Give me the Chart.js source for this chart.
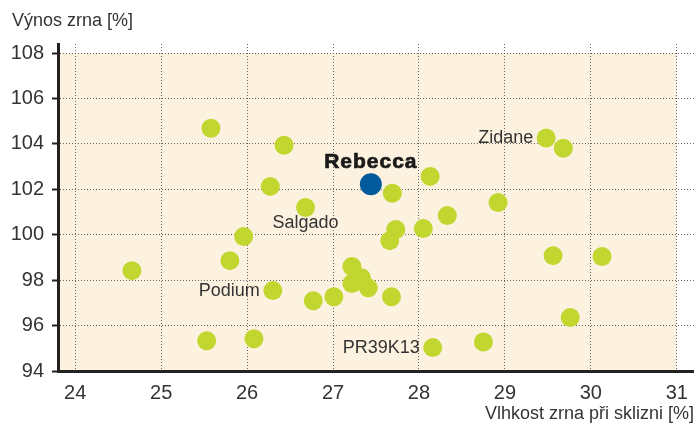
<!DOCTYPE html>
<html>
<head>
<meta charset="utf-8">
<script src="https://cdn.jsdelivr.net/npm/chart.js@4/dist/chart.umd.min.js"></script>
<style>
  body { margin: 0; background: #fff; }
  canvas { display: block; }
</style>
</head>
<body>
<canvas id="yieldChart" width="694" height="427"></canvas>
<script>
// hybrids: grain moisture at harvest [%] vs. yield [%]
const moisture = [24.66, 25.58, 25.53, 25.80, 25.96, 26.08, 26.27, 26.30, 26.43, 26.68, 26.77,
  27.01, 27.22, 27.33, 27.22, 27.41, 27.68, 27.69, 27.73, 27.66, 28.05, 28.13, 28.33,
  29.48, 29.68, 28.92, 29.56, 30.13, 29.76, 28.16, 28.75];
const yieldPct = [98.42, 104.69, 95.33, 98.86, 99.92, 95.42, 102.13, 97.54, 103.94, 101.20, 97.09,
  97.27, 98.60, 98.11, 97.85, 97.67, 97.27, 101.83, 100.23, 99.74, 100.27, 102.57, 100.85,
  104.26, 103.81, 101.42, 99.08, 99.04, 96.36, 95.03, 95.28];
const names = ['', '', '', '', '', '', '', 'Podium', '', 'Salgado', '',
  '', '', '', '', '', '', '', '', '', '', '', '',
  'Zidane', '', '', '', '', '', 'PR39K13', ''];

const rebeccaMoisture = [27.44];
const rebeccaYield = [102.22];
const rebeccaName = 'Rebecca';

const xTicks = [24, 25, 26, 27, 28, 29, 30, 31];
const yTicks = [94, 96, 98, 100, 102, 104, 106, 108];

const FONT = "'Liberation Sans', Arial, sans-serif";
const TEXT = '#333';

const toPoints = (xs, ys) => xs.map((x, i) => ({ x: x, y: ys[i] }));

// cream plot background (only up to 31 / 108) and free text
const decor = {
  id: 'decor',
  beforeDraw(chart) {
    const { ctx, chartArea, scales: { x, y } } = chart;
    ctx.save();
    ctx.fillStyle = '#fff';
    ctx.fillRect(0, 0, chart.width, chart.height);
    ctx.fillStyle = '#fdf2df';
    const top = y.getPixelForValue(yTicks[yTicks.length - 1]);
    const right = x.getPixelForValue(xTicks[xTicks.length - 1]);
    ctx.fillRect(chartArea.left, top, right - chartArea.left, chartArea.bottom - top);
    ctx.restore();
  },
  afterDraw(chart) {
    const { ctx, scales: { x, y } } = chart;
    ctx.save();
    ctx.fillStyle = TEXT;
    ctx.font = '18px ' + FONT;
    ctx.textBaseline = 'alphabetic';
    ctx.textAlign = 'left';
    ctx.fillText('Výnos zrna [%]', 12, 26);

    ctx.textBaseline = 'middle';
    names.forEach((n, i) => {
      if (!n) return;
      const px = x.getPixelForValue(moisture[i]);
      const py = y.getPixelForValue(yieldPct[i]);
      if (n === 'Salgado') {
        ctx.textAlign = 'center';
        ctx.fillText(n, px, py + 16);
      } else {
        ctx.textAlign = 'right';
        ctx.fillText(n, px - 13, py);
      }
    });

    const rx = x.getPixelForValue(rebeccaMoisture[0]);
    const ry = y.getPixelForValue(rebeccaYield[0]);
    ctx.font = 'bold 21px ' + FONT;
    ctx.fillStyle = '#1a1a1a';
    ctx.strokeStyle = '#1a1a1a';
    ctx.lineWidth = 0.7;
    ctx.textAlign = 'center';
    ctx.letterSpacing = '1px';
    ctx.fillText(rebeccaName, rx, ry - 22);
    ctx.strokeText(rebeccaName, rx, ry - 22);
    ctx.restore();
  }
};

new Chart(document.getElementById('yieldChart'), {
  type: 'scatter',
  data: {
    datasets: [{
      data: toPoints(moisture, yieldPct),
      backgroundColor: '#c1d72f',
      borderWidth: 0,
      pointRadius: 9.5,
    }, {
      data: toPoints(rebeccaMoisture, rebeccaYield),
      backgroundColor: '#005a9c',
      borderWidth: 0,
      pointRadius: 11,
    }]
  },
  options: {
    responsive: false,
    animation: false,
    layout: { autoPadding: false, padding: { top: 44, right: 0, left: 0, bottom: 0 } },
    plugins: { legend: { display: false }, tooltip: { enabled: false } },
    scales: {
      x: {
        type: 'linear',
        min: 23.8,
        max: 31.2,
        afterBuildTicks: s => { s.ticks = xTicks.map(v => ({ value: v })); },
        afterFit: s => { s.height = 56; },
        // invisible tick marks give the label gap without widening the side padding
        grid: { color: '#666', lineWidth: 1, drawTicks: true, tickLength: 10,
                tickColor: 'rgba(0,0,0,0)' },
        border: { color: '#222', width: 3, dash: [1, 2] },
        ticks: { color: TEXT, font: { family: FONT, size: 20 }, padding: 0, maxRotation: 0 },
        title: {
          display: true, text: 'Vlhkost zrna při sklizni [%]', align: 'end',
          color: TEXT, font: { family: FONT, size: 18 }, padding: { top: 0, bottom: 2 }
        }
      },
      y: {
        type: 'linear',
        min: 94,
        max: 108.4,
        afterBuildTicks: s => { s.ticks = yTicks.map(v => ({ value: v })); },
        afterFit: s => { s.width = 58; },
        grid: { color: '#666', lineWidth: 1, drawTicks: true, tickLength: 6,
                tickColor: '#222', tickWidth: 2, tickBorderDash: [] },
        border: { color: '#222', width: 3, dash: [1, 2] },
        ticks: { color: TEXT, font: { family: FONT, size: 20 }, padding: 8 }
      }
    }
  },
  plugins: [decor]
});
</script>
</body>
</html>
